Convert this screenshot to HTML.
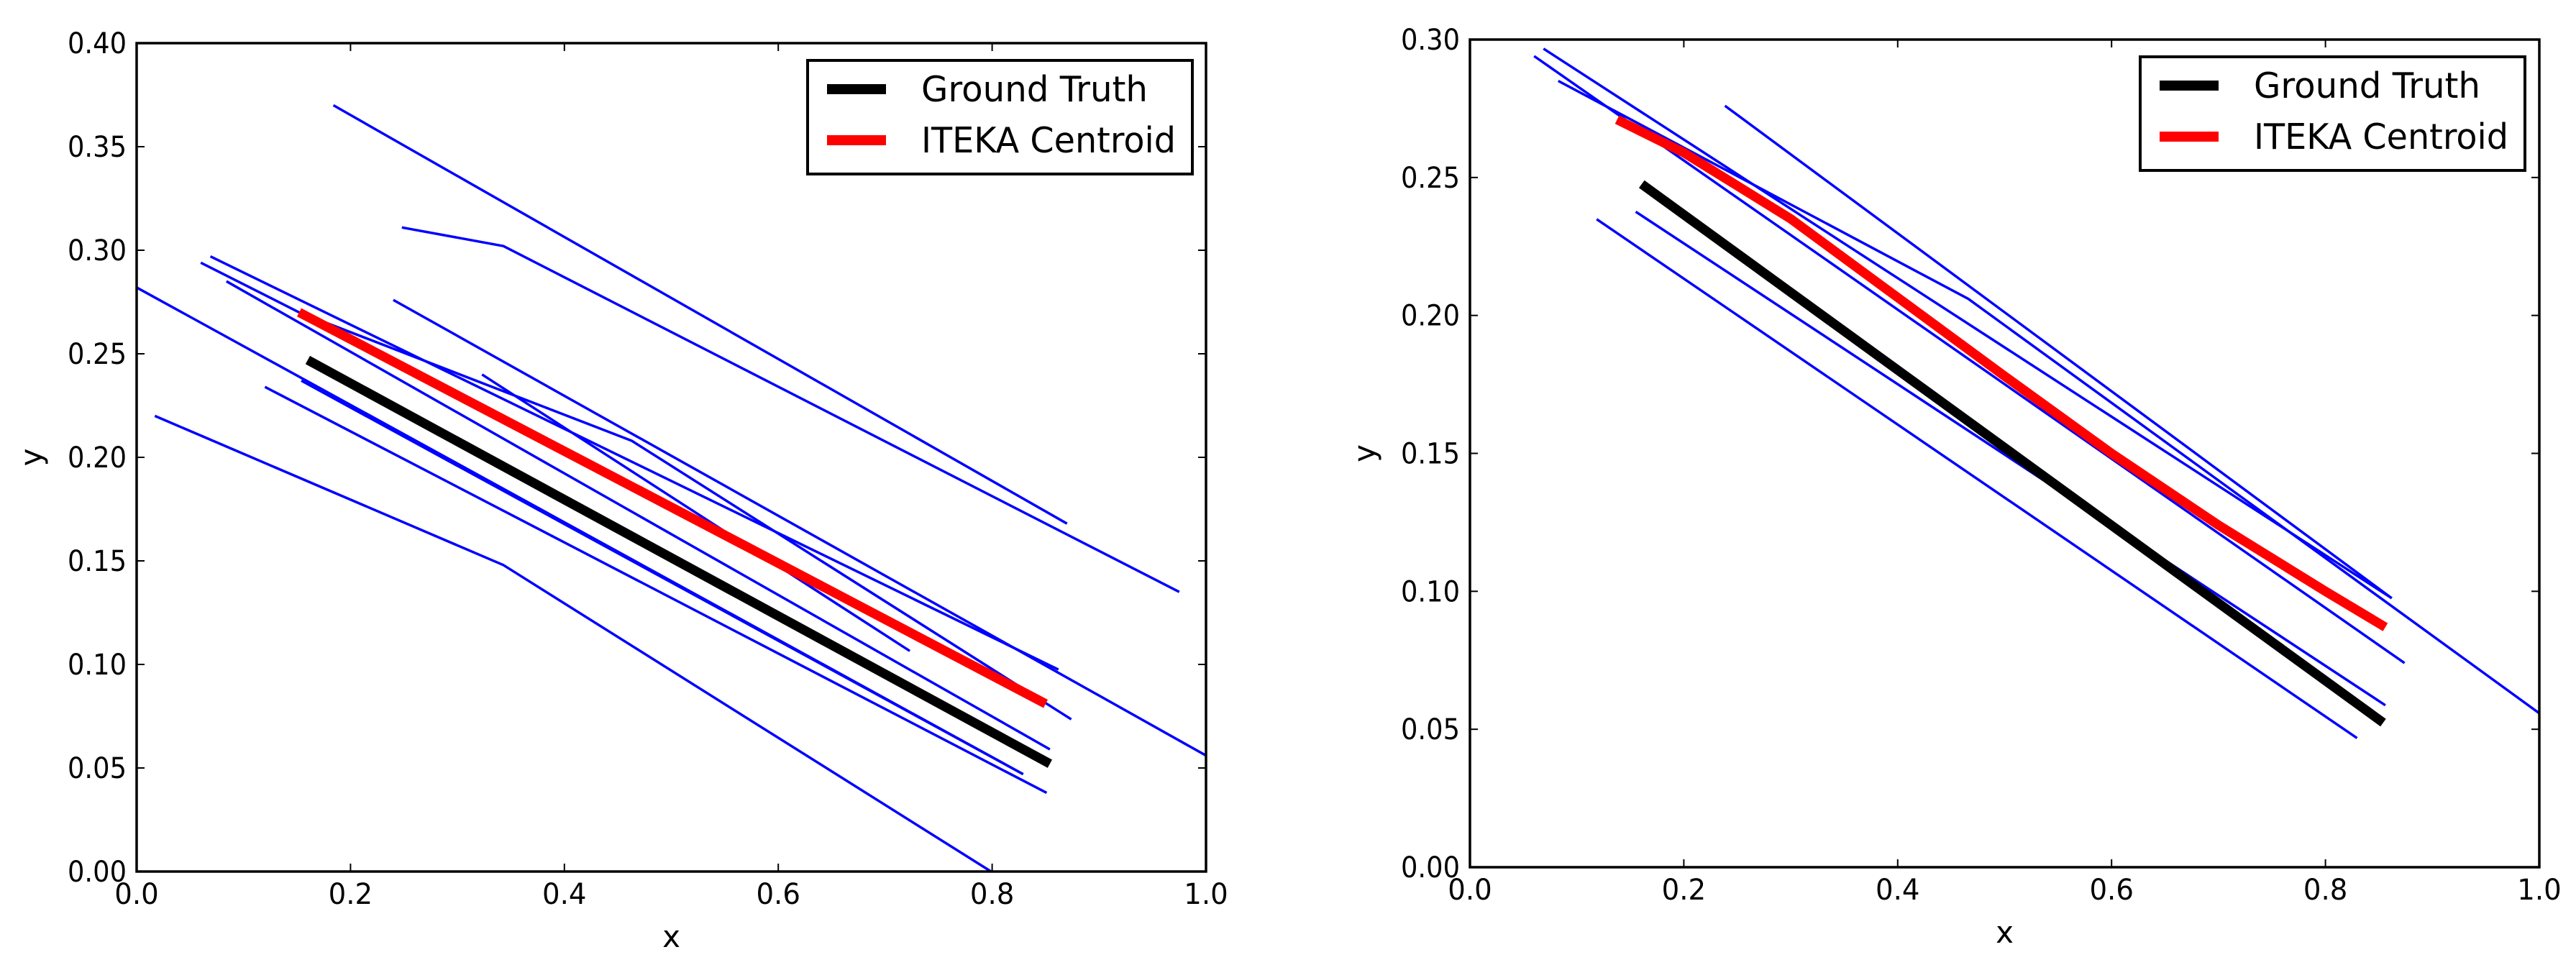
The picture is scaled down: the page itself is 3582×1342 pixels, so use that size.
<!DOCTYPE html>
<html><head><meta charset="utf-8"><style>
html,body{margin:0;padding:0;background:#fff;}
svg{display:block;}
text{font-family:"DejaVu Sans","Liberation Sans",sans-serif;fill:#000;}
</style></head>
<body>
<svg id="fig" width="3582" height="1342" viewBox="0 0 3582 1342" xmlns="http://www.w3.org/2000/svg"></svg>
<script>
// ---- data: left panel ----
const leftYTicks = [0.00,0.05,0.10,0.15,0.20,0.25,0.30,0.35,0.40];
const leftYLabels = ["0.00","0.05","0.10","0.15","0.20","0.25","0.30","0.35","0.40"];
const xTicks = [0.0,0.2,0.4,0.6,0.8,1.0];
const xLabels = ["0.0","0.2","0.4","0.6","0.8","1.0"];
const leftGroundX = [0.160,0.854];
const leftGroundY = [0.247,0.052];
const leftCentroidX = [0.152,0.570,0.850];
const leftCentroidY = [0.270,0.157,0.081];
const leftBlueX = [
  [0.184,0.870],
  [0.248,0.343,0.975],
  [0.000,0.829],
  [0.120,0.851],
  [0.017,0.343,0.799],
  [0.069,0.862],
  [0.060,0.152,0.463,0.874],
  [0.084,0.854],
  [0.240,1.000],
  [0.323,0.723],
  [0.154,0.829]
];
const leftBlueY = [
  [0.370,0.168],
  [0.311,0.302,0.135],
  [0.282,0.047],
  [0.234,0.038],
  [0.220,0.148,0.000],
  [0.297,0.0975],
  [0.294,0.270,0.208,0.0735],
  [0.285,0.059],
  [0.276,0.056],
  [0.240,0.1065],
  [0.237,0.047]
];
// ---- data: right panel ----
const rightYTicks = [0.00,0.05,0.10,0.15,0.20,0.25,0.30];
const rightYLabels = ["0.00","0.05","0.10","0.15","0.20","0.25","0.30"];
const rightGroundX = [0.1606,0.854];
const rightGroundY = [0.2476,0.0524];
const rightCentroidX = [0.1376,0.20,0.30,0.40,0.50,0.60,0.70,0.80,0.856];
const rightCentroidY = [0.271,0.259,0.235,0.2065,0.178,0.150,0.124,0.100,0.087];
const rightBlueX = [
  [0.0688,0.862],
  [0.060,0.874],
  [0.0826,0.466,1.000],
  [0.2385,0.862],
  [0.155,0.856],
  [0.1185,0.8295]
];
const rightBlueY = [
  [0.2967,0.0975],
  [0.294,0.074],
  [0.285,0.206,0.0558],
  [0.276,0.0975],
  [0.2376,0.0587],
  [0.2349,0.0468]
];

const NS = "http://www.w3.org/2000/svg";
const svg = document.getElementById('fig');
function mk(tag, attrs, parent){
  const e = document.createElementNS(NS, tag);
  for (const k in attrs) e.setAttribute(k, attrs[k]);
  (parent||svg).appendChild(e);
  return e;
}

function panel(cfg){
  const g = mk('g', {});
  
  
  const L=cfg.l,R=cfg.r,T=cfg.t,B=cfg.b;
  const sx = v => L + v*(R-L);
  const sy = v => B - v/cfg.ymax*(B-T);
  const pts = (xs,ys) => xs.map((x,i)=>sx(x).toFixed(1)+','+sy(ys[i]).toFixed(1)).join(' ');
  cfg.bx.forEach((xs,i)=>{
    const p = mk('polyline',{points:pts(xs,cfg.by[i]),fill:'none',stroke:'#0000ff','stroke-width':3.5,'stroke-linejoin':'round'},g);
    
    
  });
  const gt = mk('polyline',{points:pts(cfg.gx,cfg.gy),fill:'none',stroke:'#000','stroke-width':13},g);
  
  
  const ct = mk('polyline',{points:pts(cfg.cx,cfg.cy),fill:'none',stroke:'#ff0000','stroke-width':13,'stroke-linejoin':'round'},g);
  
  
  cfg.yt.forEach((v,i)=>{
    const y = sy(v);
    mk('line',{x1:L,x2:L+11,y1:y,y2:y,stroke:'#000','stroke-width':2},g);
    mk('line',{x1:R-11,x2:R,y1:y,y2:y,stroke:'#000','stroke-width':2},g);
    const t = mk('text',{x:L-14,y:y+14,'text-anchor':'end','font-size':40,textLength:20.5*cfg.yl[i].length,lengthAdjust:'spacingAndGlyphs'},g);
    t.textContent = cfg.yl[i];
    
    
  });
  xTicks.forEach((v,i)=>{
    const x = sx(v);
    mk('line',{x1:x,x2:x,y1:B,y2:B-11,stroke:'#000','stroke-width':2},g);
    mk('line',{x1:x,x2:x,y1:T,y2:T+11,stroke:'#000','stroke-width':2},g);
    const t = mk('text',{x:x,y:B+45,'text-anchor':'middle','font-size':40,textLength:20.5*xLabels[i].length,lengthAdjust:'spacingAndGlyphs'},g);
    t.textContent = xLabels[i];
    
    
  });
  const fr = mk('rect',{x:L,y:T,width:R-L,height:B-T,fill:'none',stroke:'#000','stroke-width':3.5},g);
  
  
  const xl = mk('text',{x:(L+R)/2,y:B+105,'text-anchor':'middle','font-size':42},g);
  xl.textContent = 'x';
  
  
  const yl = mk('text',{x:0,y:0,'text-anchor':'middle','font-size':42,transform:`translate(${cfg.ylx},${(T+B)/2}) rotate(-90)`},g);
  yl.textContent = 'y';
  
  
  const lg = mk('g',{},g);
  
  
  const lx = cfg.legX, ly = cfg.legY;
  mk('rect',{x:lx,y:ly,width:535,height:158,fill:'#fff',stroke:'#000','stroke-width':4},lg);
  mk('line',{x1:lx+27,x2:lx+109,y1:ly+40,y2:ly+40,stroke:'#000','stroke-width':14},lg);
  mk('line',{x1:lx+27,x2:lx+109,y1:ly+111,y2:ly+111,stroke:'#ff0000','stroke-width':14},lg);
  const t1 = mk('text',{x:lx+158,y:ly+57,'font-size':49,textLength:315,lengthAdjust:'spacingAndGlyphs'},lg);
  t1.textContent = 'Ground Truth';
  
  
  const t2 = mk('text',{x:lx+158,y:ly+128,'font-size':49,textLength:354,lengthAdjust:'spacingAndGlyphs'},lg);
  t2.textContent = 'ITEKA Centroid';
  
  
}

panel({name:'left-chart',l:190,r:1677,t:60,b:1212,ymax:0.40,yt:leftYTicks,yl:leftYLabels,
  gx:leftGroundX,gy:leftGroundY,cx:leftCentroidX,cy:leftCentroidY,bx:leftBlueX,by:leftBlueY,
  ylx:58,legX:1123,legY:84});
panel({name:'right-chart',l:2044,r:3531,t:55,b:1206,ymax:0.30,yt:rightYTicks,yl:rightYLabels,
  gx:rightGroundX,gy:rightGroundY,cx:rightCentroidX,cy:rightCentroidY,bx:rightBlueX,by:rightBlueY,
  ylx:1912,legX:2976,legY:79});
</script>
</body></html>
